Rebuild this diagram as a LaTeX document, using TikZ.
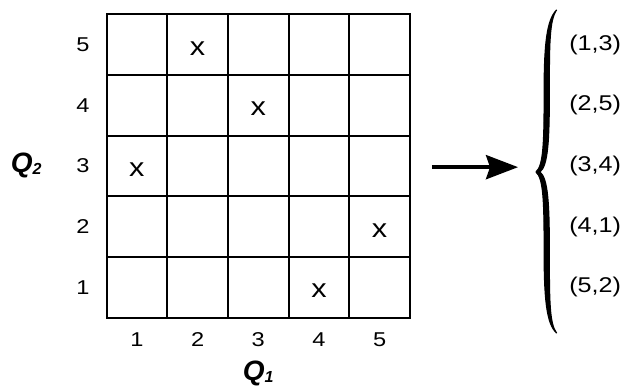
\documentclass[tikz,border=0pt]{standalone}
\usepackage{fontspec}
\setmainfont{Liberation Sans}
\usetikzlibrary{arrows.meta}

\newcommand{\qsub}[1]{\raisebox{-1.5pt}{\fontsize{12}{12}\selectfont #1}}
\newcommand{\wide}[1]{\scalebox{1.18}[1]{#1}}

\begin{document}
\begin{tikzpicture}[
  x=1.6cm, y=1.6cm,
  axislabel/.style={
    font=\fontsize{15}{17}\selectfont,
    inner sep=1pt},
  hitmark/.style={
    font=\fontsize{19.5}{22}\selectfont,
    inner sep=0pt, yshift=-2.8pt},
  pairlabel/.style={
    font=\fontsize{16}{18}\selectfont,
    inner sep=0pt, anchor=west},
  qlabel/.style={
    font=\fontsize{21}{23}\selectfont\bfseries\itshape,
    inner sep=0pt, anchor=west},
  arrow/.style={
    -{Stealth[length=24pt, width=18pt, inset=3pt]},
    line width=3pt}
]

\useasboundingbox (-1.755,-1.224) rectangle (8.476,5.234);

% grid
\draw[line width=1.5pt, line cap=rect] (0,0) grid[step=1] (5,5);

\foreach \i in {1,...,5} {
  \node[axislabel] (col\i) at (\i-0.5,-0.36) {\wide{\i}};
  \node[axislabel] (row\i) at (-0.39,\i-0.5) {\wide{\i}};
}

\node[qlabel] (q1) at (2.24,-0.92) {Q\qsub{1}};
\node[qlabel] (q2) at (-1.58,2.5) {Q\qsub{2}};

% marked cells
\node[hitmark] (x13) at (0.5,2.5) {\wide{x}};
\node[hitmark] (x25) at (1.5,4.5) {\wide{x}};
\node[hitmark] (x34) at (2.5,3.5) {\wide{x}};
\node[hitmark] (x41) at (3.5,0.5) {\wide{x}};
\node[hitmark] (x52) at (4.5,1.5) {\wide{x}};

\coordinate (from) at (5.36,2.48);
\coordinate (to) at (6.78,2.48);
\draw[arrow] (from) -- (to);

% brace
\fill[draw, line width=0.9pt, line join=round]
  (7.414,5.069) .. controls (7.25,4.9) and (7.21,4.5) .. (7.21,3.7)
  .. controls (7.21,2.9) and (7.2,2.5) .. (7.075,2.401)
  .. controls (7.2,2.3) and (7.21,1.9) .. (7.21,1.1)
  .. controls (7.21,0.3) and (7.25,-0.1) .. (7.414,-0.252)
  .. controls (7.295,-0.1) and (7.295,0.3) .. (7.295,1.1)
  .. controls (7.295,1.9) and (7.27,2.3) .. (7.14,2.401)
  .. controls (7.27,2.5) and (7.295,2.9) .. (7.295,3.7)
  .. controls (7.295,4.5) and (7.295,4.9) .. (7.414,5.069) -- cycle;

\node[pairlabel] (p13) at (7.62,4.5) {\wide{(1,3)}};
\node[pairlabel] (p25) at (7.62,3.5) {\wide{(2,5)}};
\node[pairlabel] (p34) at (7.62,2.5) {\wide{(3,4)}};
\node[pairlabel] (p41) at (7.62,1.5) {\wide{(4,1)}};
\node[pairlabel] (p52) at (7.62,0.5) {\wide{(5,2)}};
\end{tikzpicture}
\end{document}
